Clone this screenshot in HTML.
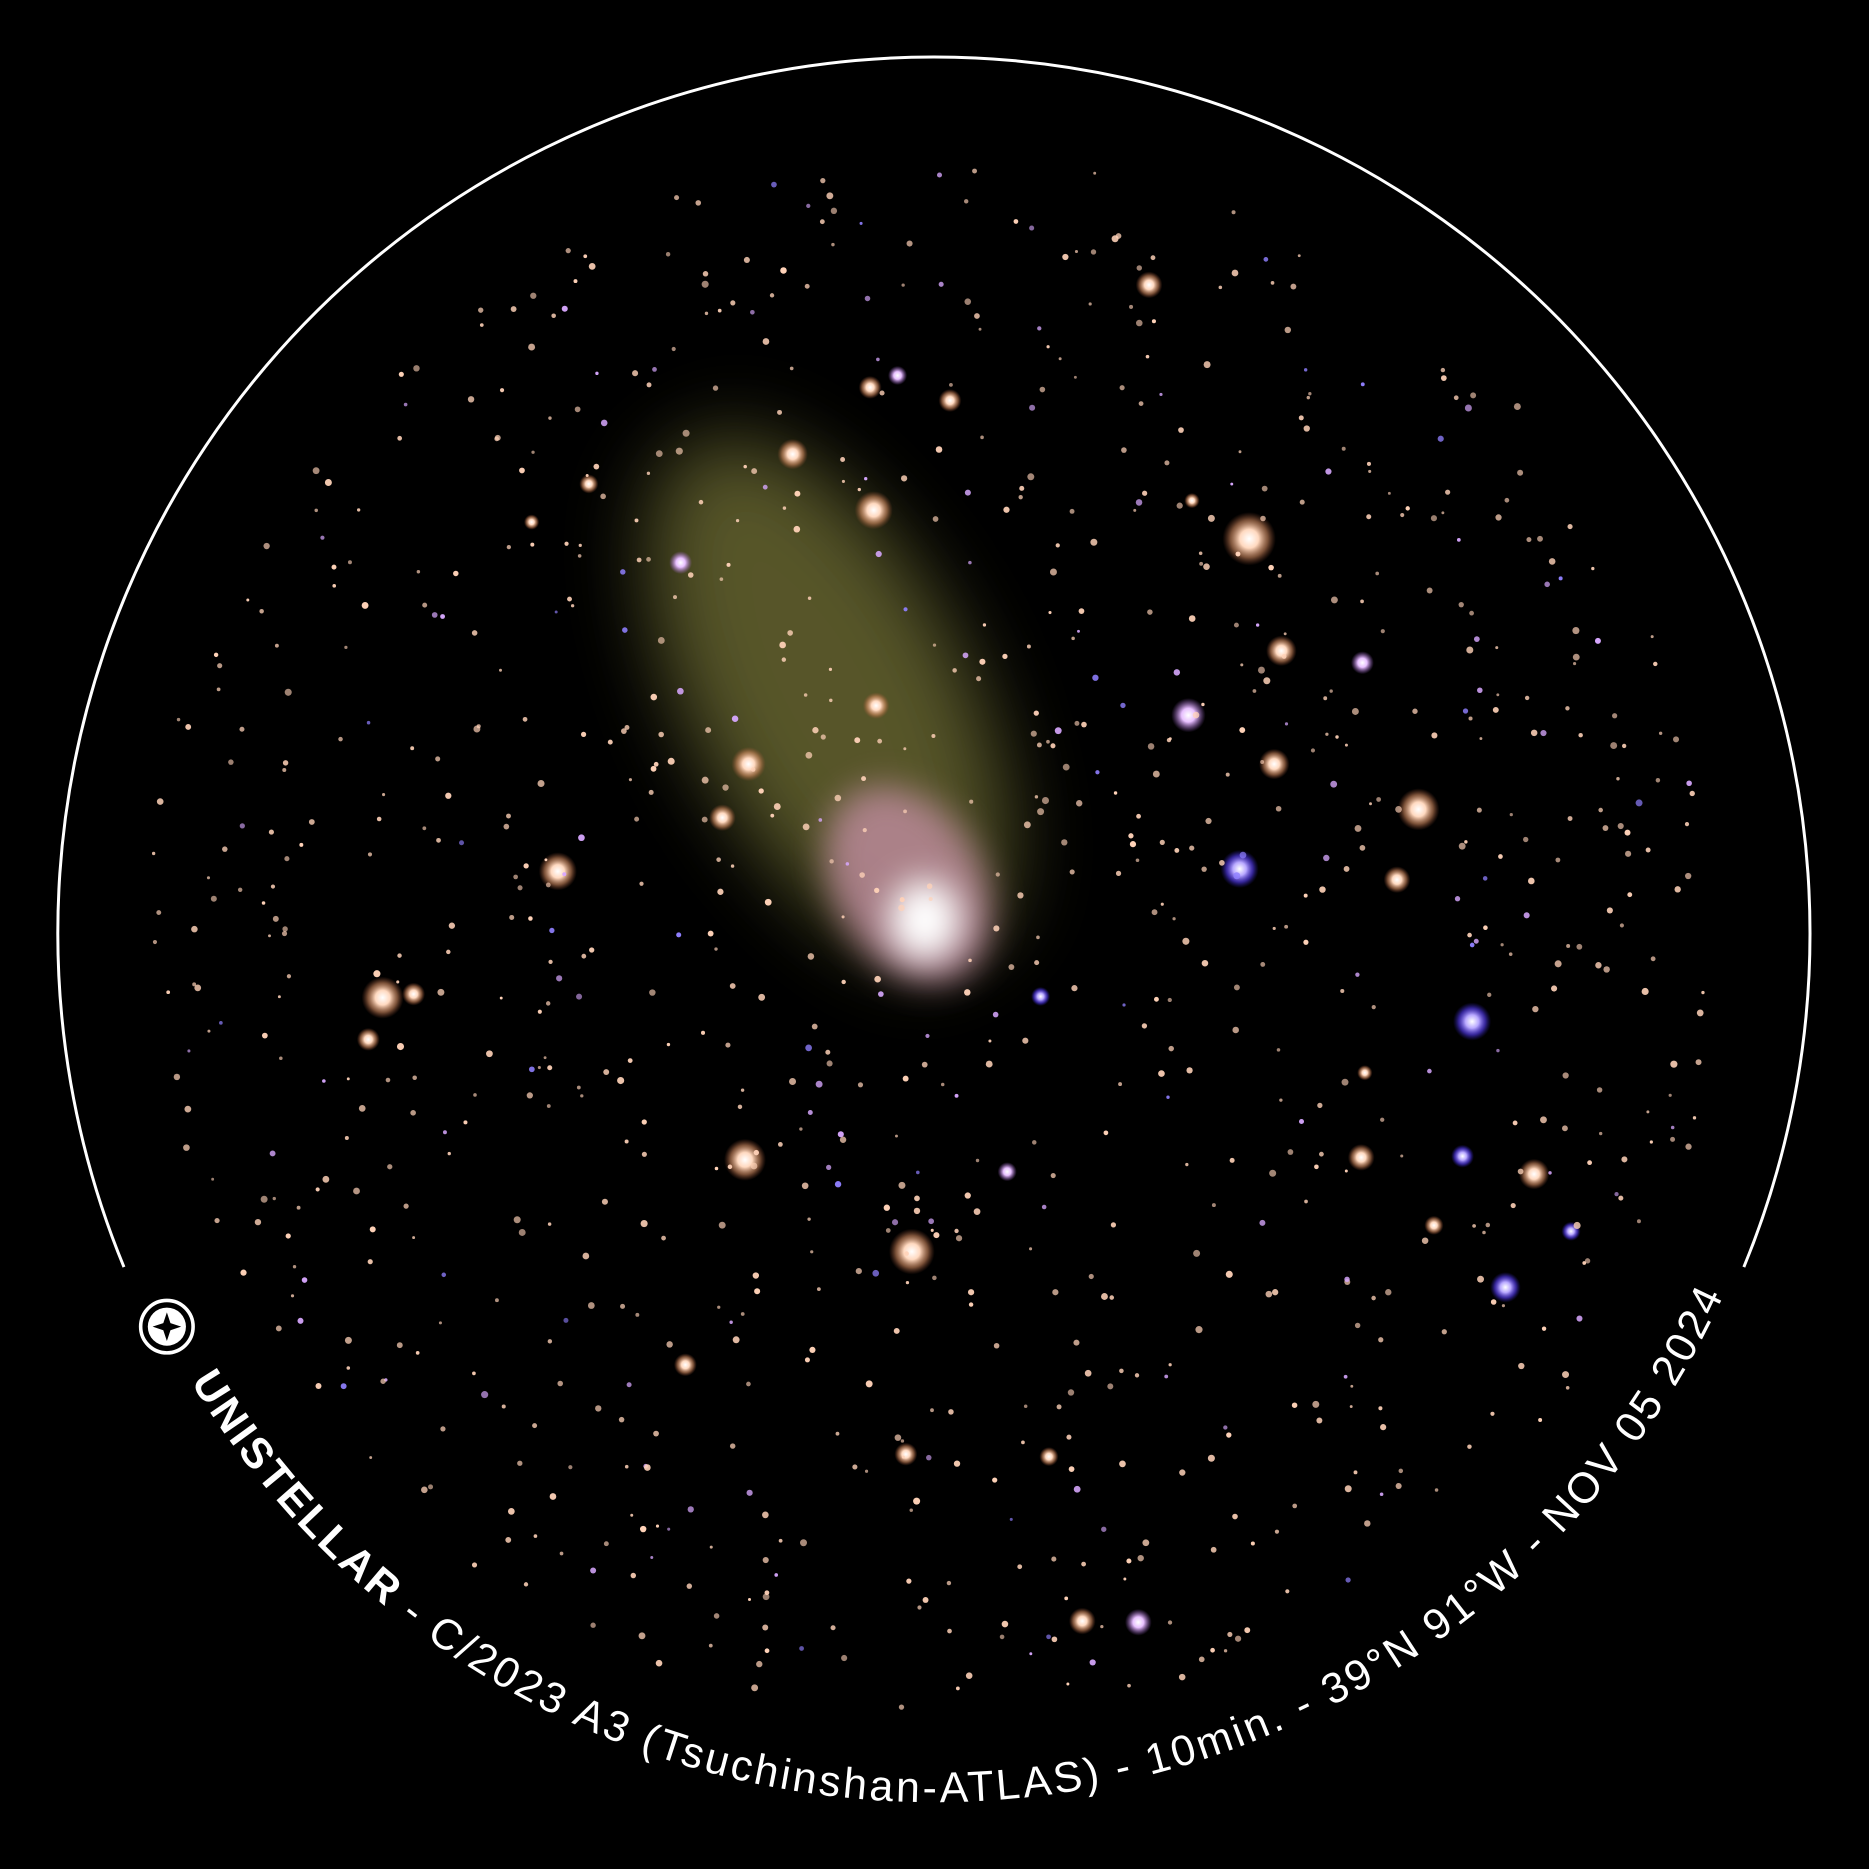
<!DOCTYPE html>
<html><head><meta charset="utf-8"><title>C/2023 A3</title>
<style>
html,body{margin:0;padding:0;background:#000;}
svg{display:block;}
</style></head>
<body>
<svg id="sky" width="1869" height="1869" viewBox="0 0 1568 1568" xmlns="http://www.w3.org/2000/svg">
<defs>
  <filter id="blur40" x="-50%" y="-50%" width="200%" height="200%"><feGaussianBlur stdDeviation="34"/></filter>
  <filter id="blur12" x="-50%" y="-50%" width="200%" height="200%"><feGaussianBlur stdDeviation="14"/></filter>
  <radialGradient id="starO"><stop offset="0" stop-color="#fff"/><stop offset="0.35" stop-color="#ffd9c0"/><stop offset="0.7" stop-color="#d08a60" stop-opacity="0.6"/><stop offset="1" stop-color="#a05030" stop-opacity="0"/></radialGradient>
  <radialGradient id="starB"><stop offset="0" stop-color="#fff"/><stop offset="0.35" stop-color="#b8a8ff"/><stop offset="0.7" stop-color="#5a40ff" stop-opacity="0.6"/><stop offset="1" stop-color="#3020c0" stop-opacity="0"/></radialGradient>
  <radialGradient id="starP"><stop offset="0" stop-color="#fff"/><stop offset="0.4" stop-color="#e8c0ff"/><stop offset="1" stop-color="#a060d0" stop-opacity="0"/></radialGradient>
  <path id="captionPath" d="M 160 1159 A 728 728 0 0 0 1449 1080"/>
</defs>
<rect width="1568" height="1568" fill="#000"/>

<g>
  <ellipse cx="695" cy="585" rx="115" ry="240" transform="rotate(-28 695 585)" fill="#7c7a3a" opacity="0.7" filter="url(#blur40)"/>
  <ellipse cx="762" cy="742" rx="62" ry="88" transform="rotate(-30 762 742)" fill="#c890a8" opacity="0.75" filter="url(#blur12)"/>
  <ellipse cx="776" cy="772" rx="30" ry="34" fill="#fff" filter="url(#blur12)"/>
</g>

<g id="stars"></g>

<path d="M 104 1063 A 735 735 0 1 1 1463 1063" fill="none" stroke="#fff" stroke-width="2.5"/>

<g>
  <circle cx="140" cy="1113" r="22" fill="none" stroke="#fff" stroke-width="3"/>
  <circle cx="140" cy="1113" r="16" fill="#fff"/>
  <path d="M140 1101 L143 1110 L152 1113 L143 1116 L140 1125 L137 1116 L128 1113 L137 1110 Z" fill="#000"/>
</g>

<text font-family="'Liberation Sans', 'DejaVu Sans', sans-serif" font-size="36" fill="#fff">
  <textPath href="#captionPath" startOffset="0" textLength="1580" lengthAdjust="spacing"><tspan font-weight="bold">UNISTELLAR</tspan> - C/2023 A3 (Tsuchinshan-ATLAS) - 10min. - 39°N 91°W - NOV 05 2024</textPath>
</text>
</svg>
<script>
// Bright stars: x, y, size, color type
const brightX = [964,730,797,665,733,1048,1075,997,1069,1190,1040,1172,1235,1143,1227,1287,1263,1318,625,765,468,321,347,309,628,606,735,571,753,494,446,908,955,1203,1142,873,845,575,760,880,1000,1145];
const brightY = [239,325,336,381,428,452,546,600,641,679,729,738,857,556,970,985,1080,1033,973,1050,731,837,834,872,641,686,592,472,315,406,438,1360,1361,1028,971,836,983,1145,1220,1222,420,900];
const brightR = [7,6,6,8,10,14,8,9,8,11,10,7,10,6,6,8,8,5,11,12,10,11,6,6,9,7,7,6,5,5,4,7,7,5,7,5,5,6,6,5,4,4];
const brightT = ["O","O","O","O","O","O","O","P","O","O","B","O","B","P","B","O","B","B","O","O","O","O","O","O","O","O","O","P","P","O","O","O","P","O","O","B","P","O","O","O","O","O"];

const g = document.getElementById('stars');
const NS = 'http://www.w3.org/2000/svg';
for (let i = 0; i < brightX.length; i++) {
  const c = document.createElementNS(NS, 'circle');
  c.setAttribute('cx', brightX[i]);
  c.setAttribute('cy', brightY[i]);
  c.setAttribute('r', brightR[i] * 1.6);
  c.setAttribute('fill', brightT[i] === 'B' ? 'url(#starB)' : brightT[i] === 'P' ? 'url(#starP)' : 'url(#starO)');
  
  
  g.appendChild(c);
}
// Faint background stars (deterministic filler)
let s = 12345;
function rnd() { s = (s * 1103515245 + 12345) % 2147483648; return s / 2147483648; }
for (let i = 0; i < 950; i++) {
  const a = rnd() * Math.PI * 2, r = Math.sqrt(rnd()) * 660;
  const x = 784 + r * Math.cos(a), y = 784 + r * Math.sin(a);
  if (y < 140) continue;
  const c = document.createElementNS(NS, 'circle');
  c.setAttribute('cx', x.toFixed(1));
  c.setAttribute('cy', y.toFixed(1));
  const sz = 1.2 + rnd() * 1.8;
  c.setAttribute('r', sz.toFixed(2));
  const k = rnd();
  c.setAttribute('fill', k < 0.1 ? '#d8a8ff' : k < 0.13 ? '#9080ff' : '#ffd2b8');
  c.setAttribute('opacity', (0.6 + rnd() * 0.4).toFixed(2));
  
  
  g.appendChild(c);
}
</script>
</body></html>
